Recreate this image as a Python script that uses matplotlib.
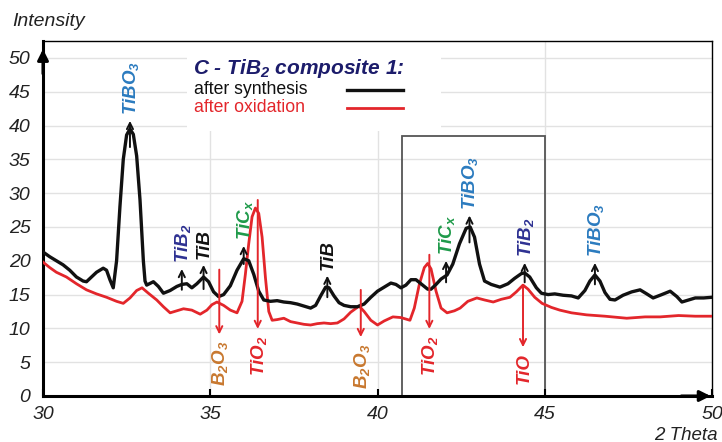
import matplotlib
matplotlib.use("Agg")
import matplotlib.pyplot as plt
from matplotlib.patches import Rectangle

plt.rcParams["font.family"] = ["Liberation Sans", "DejaVu Sans"]
plt.rcParams["mathtext.default"] = "regular"

# XRD pattern after synthesis (black)
synth_x = [30.0, 30.2, 30.4, 30.6, 30.8, 31.0, 31.2, 31.3, 31.45, 31.6, 31.8, 31.9, 32.0, 32.1,
           32.2, 32.3, 32.4, 32.5, 32.6, 32.7, 32.8, 32.9, 33.0, 33.05, 33.1, 33.3, 33.45, 33.6,
           33.8, 34.0, 34.15, 34.3, 34.45, 34.6, 34.8, 34.95, 35.1, 35.25, 35.4, 35.6, 35.8,
           36.0, 36.15, 36.3, 36.45, 36.6, 36.8, 37.0, 37.2, 37.4, 37.6, 37.8, 38.0, 38.15,
           38.3, 38.45, 38.55, 38.7, 38.85, 39.0, 39.2, 39.4, 39.6, 39.8, 40.0, 40.2, 40.4,
           40.55, 40.7, 40.85, 41.0, 41.15, 41.3, 41.5, 41.6, 41.75, 41.9, 42.08, 42.25, 42.45,
           42.65, 42.77, 42.9, 43.05, 43.2, 43.4, 43.66, 43.9, 44.1, 44.3, 44.4, 44.55, 44.75,
           44.9, 45.1, 45.3, 45.55, 45.8, 46.0, 46.2, 46.35, 46.5, 46.65, 46.8, 46.95, 47.1,
           47.34, 47.6, 47.85, 48.05, 48.24, 48.5, 48.75, 48.95, 49.1, 49.3, 49.5, 49.75, 50.0]
synth_y = [21.3, 20.6, 20.0, 19.4, 18.6, 17.6, 17.0, 16.9, 17.6, 18.3, 18.9, 18.6, 17.2, 16.0,
           20.0, 28.0, 35.0, 38.6, 39.5, 38.7, 35.5, 29.0, 20.0, 17.0, 16.4, 16.9, 16.2, 15.2,
           15.6, 16.2, 16.5, 16.6, 16.0, 16.6, 17.6, 16.9, 15.4, 14.7, 15.0, 16.3, 18.6,
           20.3, 20.0, 18.0, 15.5, 14.2, 14.0, 14.1, 13.9, 13.8, 13.6, 13.3, 13.0, 13.4,
           14.8, 16.1, 16.0, 14.8, 13.8, 13.4, 13.2, 13.2, 13.6, 14.6, 15.5, 16.1, 16.7,
           16.5, 16.0, 16.4, 17.2, 17.2, 16.6, 15.8, 15.8, 16.5, 17.3, 17.9, 19.5, 22.5,
           24.8, 25.0, 23.5, 19.5, 17.0, 16.5, 16.1, 16.6, 17.4, 18.1, 18.2, 17.6, 16.0,
           15.2, 15.0, 15.1, 14.9, 14.8, 14.5, 15.6, 17.0, 17.9, 17.0, 15.3, 14.3, 14.2,
           14.9, 15.4, 15.7, 15.1, 14.5, 15.0, 15.5, 14.7, 13.9, 14.2, 14.5, 14.5, 14.6]

# XRD pattern after oxidation (red)
oxid_x = [30.0, 30.2, 30.4, 30.7, 31.0, 31.3, 31.6, 31.9, 32.2, 32.4, 32.6, 32.8, 32.96, 33.15,
          33.4, 33.6, 33.8, 34.0, 34.2, 34.45, 34.7, 34.9, 35.05, 35.2, 35.4, 35.6, 35.8, 35.95,
          36.05, 36.15, 36.25, 36.35, 36.45, 36.55, 36.65, 36.75, 36.85, 37.0, 37.2, 37.4,
          37.6, 37.8, 38.0, 38.2, 38.4, 38.6, 38.8, 39.0, 39.2, 39.45, 39.6, 39.8, 40.0, 40.2,
          40.46, 40.7, 40.97, 41.1, 41.25, 41.4, 41.5, 41.6, 41.75, 41.9, 42.08, 42.3, 42.47,
          42.7, 42.97, 43.2, 43.46, 43.7, 43.96, 44.15, 44.35, 44.5, 44.7, 44.92, 45.2, 45.45,
          45.8, 46.25, 46.8, 47.45, 48.0, 48.45, 49.0, 49.5, 50.0]
oxid_y = [19.8, 19.0, 18.3, 17.6, 16.6, 15.7, 15.1, 14.6, 14.0, 13.7, 14.5, 15.6, 16.0, 15.2,
          14.2, 13.2, 12.3, 12.6, 12.9, 12.7, 12.1, 12.7, 13.5, 13.9, 13.4, 12.7, 12.3, 14.0,
          18.0, 22.5, 26.5, 27.8, 27.0, 23.5, 17.5, 12.5, 11.2, 11.3, 11.5, 11.0,
          10.8, 10.6, 10.5, 10.7, 10.8, 10.7, 10.8, 11.4, 12.4, 13.3, 12.5, 11.2, 10.5, 11.1,
          11.7, 11.6, 11.2, 13.0, 16.5, 19.0, 19.6, 18.8, 15.5, 13.0, 12.3, 12.6, 13.0,
          14.0, 14.5, 14.2, 13.9, 14.3, 14.6, 15.4, 16.4, 15.8, 14.6, 13.7, 13.1, 12.7,
          12.3, 12.0, 11.8, 11.5, 11.7, 11.7, 11.9, 11.8, 11.8]

# phases marked on the synthesis curve: label, 2theta, arrow start, arrow tip, colour
up_labels = [r"TiBO$_3$", r"TiB$_2$", "TiB", r"TiC$_x$", "TiB", r"TiC$_x$", r"TiBO$_3$",
             r"TiB$_2$", r"TiBO$_3$"]
up_pos = [32.6, 34.15, 34.8, 36.0, 38.5, 42.05, 42.75, 44.4, 46.5]
up_from = [36.4, 15.3, 15.4, 19.1, 14.2, 16.4, 22.3, 16.4, 16.1]
up_to = [41.1, 19.2, 19.8, 22.6, 18.2, 20.4, 27.1, 20.1, 20.1]
up_colors = ["#2b7bbf", "#2e3192", "#111111", "#1f9a4a", "#111111", "#1f9a4a", "#2b7bbf",
             "#2e3192", "#2b7bbf"]

# phases marked on the oxidation curve
down_labels = [r"B$_2$O$_3$", r"TiO$_2$", r"B$_2$O$_3$", r"TiO$_2$", "TiO"]
down_pos = [35.27, 36.42, 39.5, 41.55, 44.35]
down_from = [19.1, 29.4, 16.1, 21.3, 16.7]
down_to = [8.7, 9.5, 8.3, 9.5, 6.8]
down_colors = ["#c8782f", "#e3262b", "#c8782f", "#e3262b", "#e3262b"]

fig = plt.figure(figsize=(7.22, 4.42), dpi=100)
ax = fig.add_axes([43 / 722, 46 / 442, 669 / 722, 355 / 442])
ax.set_xlim(30, 50)
ax.set_ylim(0, 52.5)

ax.set_yticks(range(0, 51, 5))
ax.set_xticks([30, 35, 40, 45, 50])
for v in range(5, 51, 5):
    ax.axhline(v, color="#e2e2e2", lw=1, zorder=0)
for v in (35, 40, 45):
    ax.axvline(v, color="#e2e2e2", lw=1, zorder=0)
ax.add_patch(Rectangle((34.3, 39.2), 7.6, 14, facecolor="white", edgecolor="none", zorder=0.5))

ax.tick_params(axis="y", length=0, pad=9, labelsize=14)
ax.tick_params(axis="x", direction="in", length=5, width=1.5, pad=7, labelsize=14)
for lab in ax.get_xticklabels() + ax.get_yticklabels():
    lab.set_fontstyle("italic")
    lab.set_color("#222222")

for s in ("top", "right"):
    ax.spines[s].set_linewidth(1.0)
for s in ("left", "bottom"):
    ax.spines[s].set_linewidth(2.2)
ax.annotate("", xy=(0, 0.985), xytext=(0, 0.9), xycoords="axes fraction",
            arrowprops=dict(arrowstyle="-|>", color="black", lw=2.2, mutation_scale=16),
            annotation_clip=False)
ax.annotate("", xy=(1.002, 0), xytext=(0.95, 0), xycoords="axes fraction",
            arrowprops=dict(arrowstyle="-|>", color="black", lw=2.2, mutation_scale=16),
            annotation_clip=False)

# zoomed region frame
ax.add_patch(Rectangle((40.72, 0), 4.28, 38.5, facecolor="none", edgecolor="#555555",
                       lw=1.3, zorder=1))

ax.plot(oxid_x, oxid_y, color="#e3262b", lw=2.0, zorder=3)
ax.plot(synth_x, synth_y, color="#111111", lw=2.4, zorder=4)

for lab, x, y0, y1, c in zip(up_labels, up_pos, up_from, up_to, up_colors):
    ax.annotate("", xy=(x, y1), xytext=(x, y0),
                arrowprops=dict(arrowstyle="->", color="#111111", lw=1.4, mutation_scale=11),
                zorder=5)
    ax.text(x + 0.03, y1 + 0.4, lab, rotation=90, ha="center", va="bottom", color=c,
            fontsize=13.5, fontweight="bold", fontstyle="italic", zorder=6)

for lab, x, y0, y1, c in zip(down_labels, down_pos, down_from, down_to, down_colors):
    ax.annotate("", xy=(x, y1), xytext=(x, y0),
                arrowprops=dict(arrowstyle="->", color="#e3262b", lw=1.4, mutation_scale=11),
                zorder=5)
    ax.text(x + 0.03, y1 - 0.5, lab, rotation=90, ha="center", va="top", color=c,
            fontsize=13.5, fontweight="bold", fontstyle="italic", zorder=6)

# legend block
ax.text(34.48, 48.5, r"C - TiB$_2$ composite 1:", color="#1c1c6b", fontsize=15,
        fontweight="bold", fontstyle="italic", va="center", ha="left", zorder=6)
ax.text(34.5, 45.4, "after synthesis", color="#111111", fontsize=12.7, va="center", ha="left")
ax.text(34.5, 42.6, "after oxidation", color="#e3262b", fontsize=12.7, va="center", ha="left")
ax.plot([39.1, 40.76], [45.3, 45.3], color="#111111", lw=2.4)
ax.plot([39.1, 40.76], [42.6, 42.6], color="#e3262b", lw=2.0)

fig.text(12 / 722, 1 - 22 / 442, "Intensity", fontsize=14, fontstyle="italic",
         color="#222222", va="center", ha="left")
fig.text(718 / 722, 7 / 442, "2 Theta", fontsize=13.5, fontstyle="italic",
         color="#222222", va="center", ha="right")

fig.savefig("out.png", dpi=100)
